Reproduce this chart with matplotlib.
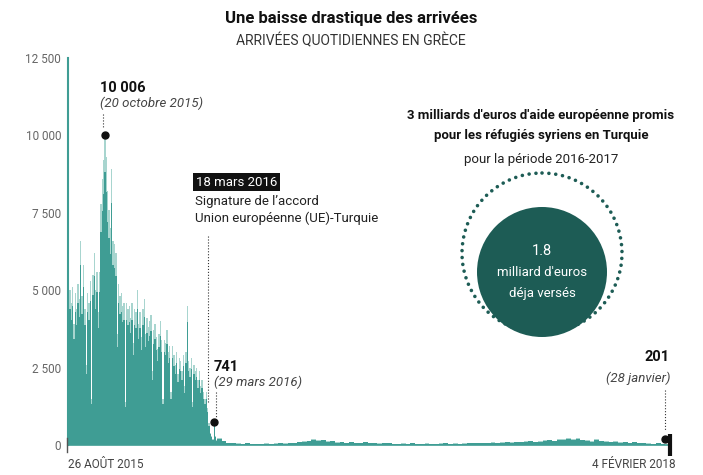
import matplotlib
matplotlib.use("Agg")
import matplotlib.pyplot as plt
import numpy as np
import pandas as pd
from matplotlib.patches import Circle

plt.rcParams['font.family'] = ['Roboto', 'DejaVu Sans']

# daily arrivals, one value every 2 days from 26 Aug 2015
early_start = '2015-08-26'
early_values = [4100, 5000, 4600, 5100, 3900, 4900, 4400, 5200, 4700, 6600,
                4800, 5800, 4400, 2600, 4900, 4600, 5300, 1500, 5500, 6200,
                5000, 5600, 4300, 5600, 7800, 8600, 9200, 10006, 9300, 8200,
                7600, 7000, 8900, 6600, 6500, 6200, 3600, 5200, 4800, 4900,
                4500, 4600, 1400, 4600, 4400, 4500, 4100, 4600, 3300, 4400,
                4300, 5000, 3900, 4300, 3500, 4400, 4700, 3600, 4100, 3800,
                4000, 4200, 2400, 3700, 3900, 3500, 3100, 3600, 4000, 3400,
                1500, 3400, 3300, 3700, 3000, 3200, 1700, 3200, 2900, 2600,
                3000, 2300, 2800, 2700, 2400, 2900, 1900, 3000, 4500, 2700,
                2500, 2800, 1400, 2600, 2400, 2500, 2100, 2400, 1900, 2100,
                1700, 1500, 1700, 1200, 700, 400, 300, 200, 741, 300, 150]

# after the EU-Turkey deal: weekly values ending 28 Jan 2018
late_end = '2018-01-28'
late_values = [220, 130, 80, 60, 50, 45, 60, 45, 35, 45, 50, 40,
               50, 60, 50, 70, 80, 100, 120, 140, 180, 150, 170, 120, 130,
               90, 110, 80, 95, 70, 80, 95, 70, 60, 55, 80, 60, 45,
               35, 50, 40, 60, 45, 40, 50, 45, 35, 50, 60, 45, 55,
               45, 55, 65, 75, 60, 80, 70, 90, 75, 90, 105, 85, 95, 110,
               115, 130, 105, 125, 150, 170, 140, 200, 180, 230, 190, 210, 170,
               150, 120, 180, 140, 115, 105, 120, 90, 100, 70, 95, 80, 60, 50,
               45, 70, 35, 201]

y_ticks = [0, 2500, 5000, 7500, 10000, 12500]
y_labels = ['0', '2 500', '5 000', '7 500', '10 000', '12 500']

early_dates = pd.date_range(early_start, periods=len(early_values), freq='2D')
late_dates = pd.date_range(end=late_end, periods=len(late_values), freq='7D')
dates = early_dates.append(late_dates)
values = np.array(early_values + late_values)

teal = '#3f9d94'
light = '#a8d5cf'
dark = '#1d5c55'

W, H = 703, 475
fig = plt.figure(figsize=(W / 100, H / 100), dpi=100)

x0, x1, y0, y1 = 68, 670, 445, 58
ax = fig.add_axes([x0 / W, 1 - y0 / H, (x1 - x0) / W, (y0 - y1) / H])
# faded tips, then the solid body of each spike
ax.fill_between(dates, 0, values, step='post', color=light, lw=0)
ax.fill_between(dates, 0, values * 0.88, step='post', color=teal, lw=0)
ax.set_xlim(pd.Timestamp('2015-08-26'), pd.Timestamp('2018-02-04'))
ax.set_ylim(0, 12500)
ax.set_yticks(y_ticks)
ax.set_yticklabels(y_labels, fontsize=8.5, color='#666666')
ax.tick_params(axis='y', length=0, pad=5)
ax.set_xticks([])
for s in ['top', 'right']:
    ax.spines[s].set_visible(False)
ax.spines['left'].set_color(teal)
ax.spines['left'].set_linewidth(1.5)
ax.spines['bottom'].set_color(teal)
ax.spines['bottom'].set_linewidth(1.2)

# annotated points
points = [('2015-10-20', 10006), ('2016-03-29', 741), ('2018-01-28', 201)]
for d, v in points:
    ax.plot(pd.Timestamp(d), v, 'o', color='#111111', ms=5, zorder=5, clip_on=False)

# overlay in pixel coordinates for text and the circles
ov = fig.add_axes([0, 0, 1, 1], zorder=10)
ov.set_xlim(0, W)
ov.set_ylim(H, 0)
ov.axis('off')
ov.patch.set_alpha(0)

ov.text(351, 19, 'Une baisse drastique des arrivées', ha='center', va='center',
        fontsize=12, fontweight='bold', color='#111111')
ov.text(351, 41, 'ARRIVÉES QUOTIDIENNES EN GRÈCE', ha='center', va='center',
        fontsize=10, color='#333333')

ov.text(68, 465, '26 AOÛT 2015', ha='left', va='center', fontsize=8.5, color='#444444')
ov.text(676, 465, '4 FÉVRIER 2018', ha='right', va='center', fontsize=8.5, color='#444444')

# peak
ov.text(100, 88, '10 006', ha='left', va='center', fontsize=10.5, fontweight='bold', color='#111111')
ov.text(100, 103, '(20 octobre 2015)', ha='left', va='center', fontsize=9.5,
        style='italic', color='#444444')
ov.plot([103, 103], [114, 128], ls=':', lw=0.8, color='#333333')

# EU-Turkey deal
ov.text(196, 182, '18 mars 2016', ha='left', va='center', fontsize=9.5, color='white',
        bbox=dict(boxstyle='square,pad=0.2', fc='#111111', ec='none'))
ov.text(195, 201, "Signature de l’accord", ha='left', va='center', fontsize=9.5, color='#222222')
ov.text(195, 218, 'Union européenne (UE)-Turquie', ha='left', va='center', fontsize=9.5,
        color='#222222')
ov.plot([208, 208], [236, 402], ls=':', lw=0.8, color='#333333')

# 29 mars
ov.text(214, 367, '741', ha='left', va='center', fontsize=10.5, fontweight='bold', color='#111111')
ov.text(214, 382, '(29 mars 2016)', ha='left', va='center', fontsize=9.5,
        style='italic', color='#444444')
ov.plot([216, 216], [392, 418], ls=':', lw=0.8, color='#333333')

# 28 janvier
ov.text(670, 357, '201', ha='right', va='center', fontsize=10.5, fontweight='bold', color='#111111')
ov.text(670, 378, '(28 janvier)', ha='right', va='center', fontsize=9.5,
        style='italic', color='#444444')
ov.plot([665, 665], [390, 430], ls=':', lw=0.8, color='#333333')
ov.plot([670, 670], [434, 456], lw=3, color='#111111', solid_capstyle='butt')
ov.plot([67, 67], [438, 452], lw=1, color='#555555')

# aid block
ov.text(541, 115, "3 milliards d'euros d'aide européenne promis", ha='center', va='center',
        fontsize=9.5, fontweight='bold', color='#111111')
ov.text(541, 136, 'pour les réfugiés syriens en Turquie', ha='center', va='center',
        fontsize=9.5, fontweight='bold', color='#111111')
ov.text(541, 160, 'pour la période 2016-2017', ha='center', va='center',
        fontsize=9.5, color='#222222')

ov.add_patch(Circle((542, 272), 65, fc=dark, ec='none', zorder=2))
ov.add_patch(Circle((542, 253), 80, fc='none', ec=dark, lw=2.6, ls=(0, (0.01, 1.9)),
                    capstyle='round', zorder=3))
ov.text(542, 251, '1.8', ha='center', va='center', fontsize=10.5, color='white', zorder=4)
ov.text(542, 272, "milliard d'euros", ha='center', va='center', fontsize=9.5, color='white', zorder=4)
ov.text(542, 293, 'déja versés', ha='center', va='center', fontsize=9.5, color='white', zorder=4)

fig.savefig('out.png', dpi=100)
